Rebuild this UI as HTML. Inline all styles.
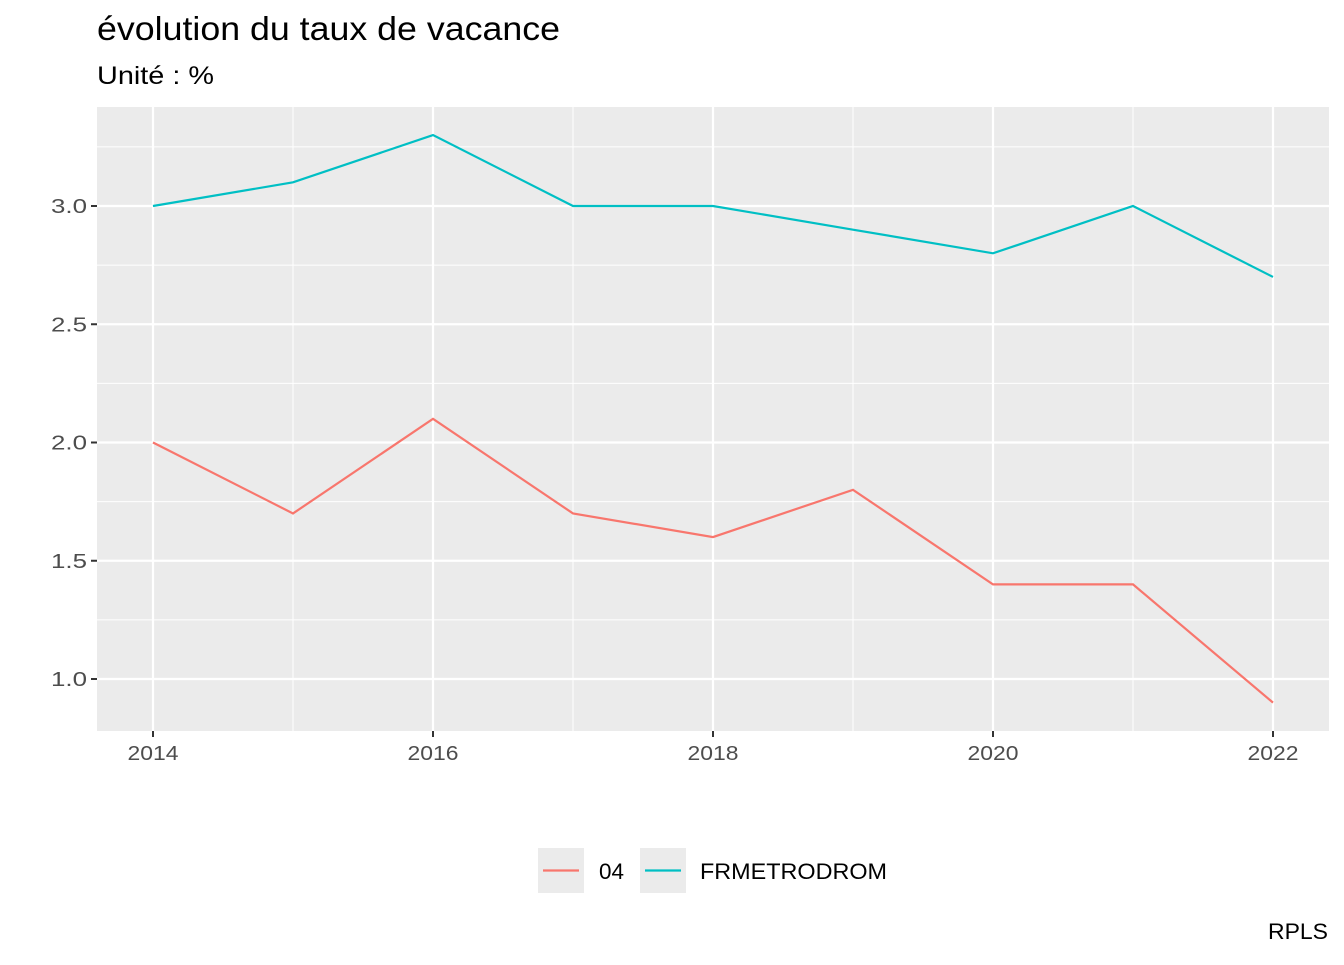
<!DOCTYPE html>
<html><head><meta charset="utf-8">
<style>
body{margin:0;background:#fff;font-family:"Liberation Sans",sans-serif;}
svg text{font-family:"Liberation Sans",sans-serif;}
</style></head>
<body>
<svg id="chart" width="1344" height="960" xmlns="http://www.w3.org/2000/svg">
<text x="97" y="40" font-size="33" textLength="463" lengthAdjust="spacingAndGlyphs" fill="#000">évolution du taux de vacance</text>
<text x="97" y="84" font-size="25" textLength="117" lengthAdjust="spacingAndGlyphs" fill="#000">Unité : %</text>
<rect x="97" y="107" width="1232" height="624" fill="#ebebeb"/>
<g id="grid"></g>
<g id="series"></g>
<g id="axes"></g>
<g>
<rect x="538" y="848" width="46" height="45" fill="#ebebeb"/>
<line x1="543" x2="579" y1="870.5" y2="870.5" stroke="#F8766D" stroke-width="2.2"/>
<text x="599" y="879" font-size="22" textLength="25" lengthAdjust="spacingAndGlyphs">04</text>
<rect x="640" y="848" width="46" height="45" fill="#ebebeb"/>
<line x1="645" x2="681" y1="870.5" y2="870.5" stroke="#00BFC4" stroke-width="2.2"/>
<text x="700" y="879" font-size="22" textLength="187" lengthAdjust="spacingAndGlyphs">FRMETRODROM</text>
</g>
<text x="1328" y="939" font-size="22" text-anchor="end" textLength="60" lengthAdjust="spacingAndGlyphs">RPLS</text>
</svg>
<script>
const years = [2014,2015,2016,2017,2018,2019,2020,2021,2022];
const series04 = [2.0,1.7,2.1,1.7,1.6,1.8,1.4,1.4,0.9];
const seriesFR = [3.0,3.1,3.3,3.0,3.0,2.9,2.8,3.0,2.7];
const yTicks = [1.0,1.5,2.0,2.5,3.0];
const yTickLabels = ["1.0","1.5","2.0","2.5","3.0"];
const xTicks = [2014,2016,2018,2020,2022];

const NS="http://www.w3.org/2000/svg";
const x = v => 153 + (v-2014)*140;
const y = v => 679 - (v-1.0)*236.5;
function mk(tag, attrs, parent){const e=document.createElementNS(NS,tag);for(const k in attrs)e.setAttribute(k,attrs[k]);document.getElementById(parent).appendChild(e);return e;}

for(let i=0;i<yTicks.length+1;i++){
  const v = 0.75 + i*0.5;
  if(y(v)>107 && y(v)<731){
    const l=mk('line',{x1:97,x2:1329,y1:y(v),y2:y(v),stroke:'#fff','stroke-width':1},'grid');
    
    
  }
}
for(const yr of years){
  if(xTicks.indexOf(yr)<0){
    const l=mk('line',{x1:x(yr),x2:x(yr),y1:107,y2:731,stroke:'#fff','stroke-width':1},'grid');
    
    
  }
}
yTicks.forEach((v,i)=>{
  const l=mk('line',{x1:97,x2:1329,y1:y(v),y2:y(v),stroke:'#fff','stroke-width':2.2},'grid');
  
  
  const t=mk('line',{x1:91,x2:97,y1:y(v),y2:y(v),stroke:'#333','stroke-width':2},'axes');
  
  
  const tx=mk('text',{x:87,y:y(v)+7,'font-size':20,'text-anchor':'end',fill:'#4d4d4d',textLength:36,lengthAdjust:'spacingAndGlyphs'},'axes');
  tx.textContent=yTickLabels[i];
  
  
});
xTicks.forEach(v=>{
  const l=mk('line',{x1:x(v),x2:x(v),y1:107,y2:731,stroke:'#fff','stroke-width':2.2},'grid');
  
  
  const t=mk('line',{x1:x(v),x2:x(v),y1:731,y2:737,stroke:'#333','stroke-width':2},'axes');
  
  
  const tx=mk('text',{x:x(v),y:760,'font-size':20,'text-anchor':'middle',fill:'#4d4d4d',textLength:51,lengthAdjust:'spacingAndGlyphs'},'axes');
  tx.textContent=String(v);
  
  
});
function line(vals,color,name){
  const p=mk('polyline',{points:vals.map((v,i)=>x(years[i])+','+y(v)).join(' '),fill:'none',stroke:color,'stroke-width':2.2},'series');
  
  
}
line(series04,'#F8766D','line-04');
line(seriesFR,'#00BFC4','line-frmetrodrom');
</script>
</body></html>
